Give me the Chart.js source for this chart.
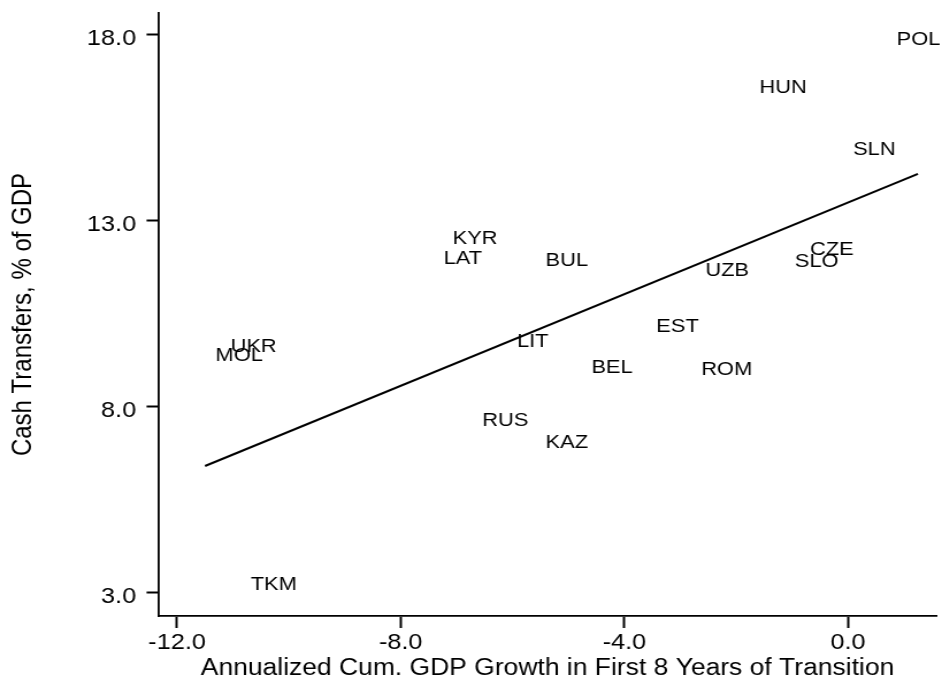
<!DOCTYPE html>
<html>
<head>
<meta charset="utf-8">
<script src="https://cdn.jsdelivr.net/npm/chart.js@4/dist/chart.umd.min.js"></script>
<style>
  html, body { margin: 0; padding: 0; background: #fff; }
</style>
</head>
<body>
<!-- the reference is a bit stretched horizontally, so the canvas is drawn narrower and widened by css -->
<canvas id="chart_transfers" width="819" height="683" style="display:block;width:942px;height:683px;"></canvas>
<script>
// country codes, x = annualized cum. GDP growth, y = cash transfers % of GDP
const countries = ["POL", "HUN", "SLN", "CZE", "SLO", "UZB", "EST", "ROM", "KYR",
  "LAT", "BUL", "LIT", "BEL", "RUS", "KAZ", "UKR", "MOL", "TKM"];
const growth = [1.26, -1.16, 0.47, -0.29, -0.56, -2.16, -3.05, -2.17, -6.67,
  -6.89, -5.03, -5.64, -4.22, -6.13, -5.03, -10.63, -10.89, -10.27];
const transfers = [17.89, 16.61, 14.94, 12.25, 11.93, 11.71, 10.18, 9.04, 12.56,
  12.01, 11.97, 9.80, 9.09, 7.68, 7.08, 9.66, 9.42, 3.26];

// fitted line end points
const fitX = [-11.5, 1.25];
const fitY = [6.41, 14.26];

// ticks
const xTicks = [-12, -8, -4, 0];
const xTickLabels = ["-12.0", "-8.0", "-4.0", "0.0"];
const yTicks = [3, 8, 13, 18];
const yTickLabels = ["3.0", "8.0", "13.0", "18.0"];

const FONT = "'Liberation Sans', Arial, sans-serif";
const LABEL_SIZE = 19;

// draws the country codes where the (invisible) points are
const countryLabelsPlugin = {
  id: "country_labels",
  afterDatasetsDraw(chart) {
    const ctx = chart.ctx;
    const meta = chart.getDatasetMeta(0);
    ctx.save();
    ctx.fillStyle = "#000";
    ctx.font = LABEL_SIZE + "px " + FONT;
    ctx.textAlign = "center";
    ctx.textBaseline = "alphabetic";
    meta.data.forEach((pt, i) => {
      ctx.fillText(countries[i], pt.x, pt.y + 0.358 * LABEL_SIZE);
    });
    ctx.restore();
  },
};

const ctx = document.getElementById("chart_transfers").getContext("2d");

new Chart(ctx, {
  type: "scatter",
  data: {
    datasets: [
      {
        data: growth.map((g, i) => ({ x: g, y: transfers[i] })),
        pointRadius: 0,
        pointHoverRadius: 0,
        showLine: false,
      },
      {
        data: fitX.map((x, i) => ({ x: x, y: fitY[i] })),
        showLine: true,
        borderColor: "#000",
        borderWidth: 2,
        pointRadius: 0,
        pointHoverRadius: 0,
        fill: false,
      },
    ],
  },
  options: {
    responsive: false,
    devicePixelRatio: 1,
    animation: false,
    events: [],
    layout: {
      padding: { top: 13, right: 4.4, left: 0, bottom: 0 },
    },
    plugins: {
      legend: { display: false },
      tooltip: { enabled: false },
    },
    scales: {
      x: {
        type: "linear",
        min: -12.34,
        max: 1.59,
        afterBuildTicks: (scale) => {
          scale.ticks = xTicks.map((v) => ({ value: v }));
        },
        afterFit: (scale) => {
          scale.height = 67;
          scale.paddingLeft = 0;
          scale.paddingRight = 0;
        },
        ticks: {
          color: "#000",
          padding: 2,
          maxRotation: 0,
          autoSkip: false,
          font: { family: FONT, size: 22 },
          callback: (v, i) => xTickLabels[i],
        },
        grid: {
          drawOnChartArea: false,
          drawTicks: true,
          tickLength: 12,
          tickColor: "#000",
          tickWidth: 2,
        },
        border: { display: true, color: "#000", width: 1.8 },
        title: {
          display: true,
          text: "Annualized Cum. GDP Growth in First 8 Years of Transition",
          color: "#000",
          font: { family: FONT, size: 23, lineHeight: 1.2 },
          padding: { top: 0, bottom: 1 },
        },
      },
      y: {
        type: "linear",
        min: 2.38,
        max: 18.58,
        afterBuildTicks: (scale) => {
          scale.ticks = yTicks.map((v) => ({ value: v }));
        },
        afterFit: (scale) => {
          scale.width = 137.4;
          scale.paddingTop = 0;
          scale.paddingBottom = 0;
        },
        ticks: {
          color: "#000",
          padding: 9,
          labelOffset: 4,
          autoSkip: false,
          font: { family: FONT, size: 22 },
          callback: (v, i) => yTickLabels[i],
        },
        grid: {
          drawOnChartArea: false,
          drawTicks: true,
          tickLength: 10,
          tickColor: "#000",
          tickWidth: 2,
        },
        border: { display: true, color: "#000", width: 1.8 },
        title: {
          display: true,
          text: "Cash Transfers, % of GDP",
          color: "#000",
          font: { family: FONT, size: 24, lineHeight: 1.2 },
          padding: { top: 6, bottom: 0 },
        },
      },
    },
  },
  plugins: [countryLabelsPlugin],
});
</script>
</body>
</html>
